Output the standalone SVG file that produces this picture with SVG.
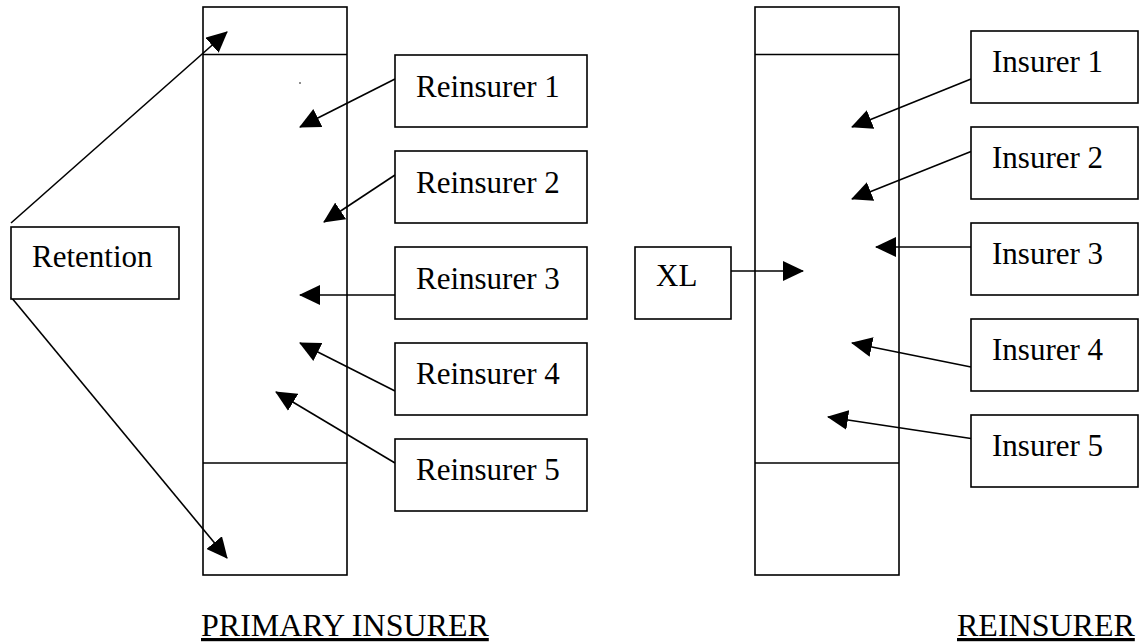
<svg xmlns="http://www.w3.org/2000/svg" width="1139" height="642" viewBox="0 0 1139 642">
<style>
.box{fill:#fff;stroke:#000;stroke-width:1.6}
.col{fill:none;stroke:#000;stroke-width:1.6}
.t{font-family:"Liberation Serif","Times New Roman",serif;font-size:31px;fill:#000}
.lbl{font-family:"Liberation Serif","Times New Roman",serif;font-size:32px;fill:#000;text-decoration:underline}
.c line{stroke:#000;stroke-width:1.6}
</style>
<defs>
<marker id="ah" markerUnits="userSpaceOnUse" markerWidth="21" markerHeight="20" viewBox="0 0 21 20" refX="20" refY="10" orient="auto">
<path d="M0,0 L21,10 L0,20 z" fill="#000"/>
</marker>
</defs>
<rect width="1139" height="642" fill="#fff"/>
<g id="primary-column">
<rect class="col" x="203" y="7" width="144" height="568"/>
<line class="col" x1="203" y1="54.5" x2="347" y2="54.5"/>
<line class="col" x1="203" y1="463" x2="347" y2="463"/>
<circle cx="300" cy="83" r="0.8" fill="#000"/>
</g>
<g id="reinsurer-column">
<rect class="col" x="755" y="7" width="144" height="568"/>
<line class="col" x1="755" y1="54.5" x2="899" y2="54.5"/>
<line class="col" x1="755" y1="463" x2="899" y2="463"/>
</g>
<g class="c" id="connectors">
<line x1="11" y1="223" x2="227" y2="32" marker-end="url(#ah)"/>
<line x1="11" y1="297" x2="227" y2="558" marker-end="url(#ah)"/>
<line x1="395" y1="79" x2="300" y2="127" marker-end="url(#ah)"/>
<line x1="395" y1="175" x2="324" y2="222" marker-end="url(#ah)"/>
<line x1="395" y1="295" x2="300" y2="295" marker-end="url(#ah)"/>
<line x1="395" y1="391" x2="300" y2="343" marker-end="url(#ah)"/>
<line x1="395" y1="463" x2="276" y2="392" marker-end="url(#ah)"/>
<line x1="731" y1="271" x2="803" y2="271" marker-end="url(#ah)"/>
<line x1="971" y1="79" x2="852" y2="127" marker-end="url(#ah)"/>
<line x1="971" y1="151.5" x2="852" y2="199" marker-end="url(#ah)"/>
<line x1="971" y1="247" x2="876" y2="247" marker-end="url(#ah)"/>
<line x1="971" y1="367" x2="852" y2="343" marker-end="url(#ah)"/>
<line x1="971" y1="438.5" x2="828" y2="417" marker-end="url(#ah)"/>
</g>
<g id="retention"><rect class="box" x="11" y="227" width="168" height="72"/><text class="t" x="32" y="267">Retention</text></g>
<g id="reinsurer1"><rect class="box" x="395" y="55" width="192" height="72"/><text class="t" x="416" y="97">Reinsurer 1</text></g>
<g id="reinsurer2"><rect class="box" x="395" y="151" width="192" height="72"/><text class="t" x="416" y="193">Reinsurer 2</text></g>
<g id="reinsurer3"><rect class="box" x="395" y="247" width="192" height="72"/><text class="t" x="416" y="289">Reinsurer 3</text></g>
<g id="reinsurer4"><rect class="box" x="395" y="343" width="192" height="72"/><text class="t" x="416" y="384">Reinsurer 4</text></g>
<g id="reinsurer5"><rect class="box" x="395" y="439" width="192" height="72"/><text class="t" x="416" y="480">Reinsurer 5</text></g>
<g id="xl"><rect class="box" x="635" y="247" width="96" height="72"/><text class="t" x="656" y="286">XL</text></g>
<g id="insurer1"><rect class="box" x="971" y="31" width="167" height="72"/><text class="t" x="992" y="72">Insurer 1</text></g>
<g id="insurer2"><rect class="box" x="971" y="127" width="167" height="72"/><text class="t" x="992" y="168">Insurer 2</text></g>
<g id="insurer3"><rect class="box" x="971" y="223" width="167" height="72"/><text class="t" x="992" y="264">Insurer 3</text></g>
<g id="insurer4"><rect class="box" x="971" y="319" width="167" height="72"/><text class="t" x="992" y="360">Insurer 4</text></g>
<g id="insurer5"><rect class="box" x="971" y="415" width="167" height="72"/><text class="t" x="992" y="456">Insurer 5</text></g>
<g id="labels">
<text class="lbl" x="201" y="636">PRIMARY INSURER</text>
<text class="lbl" x="957" y="636">REINSURER</text>
</g>
</svg>
